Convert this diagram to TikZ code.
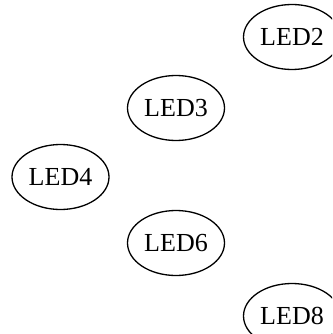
\documentclass[tikz,border=0pt]{standalone}
\usepackage{fontspec}
\setmainfont{Liberation Serif}
\usetikzlibrary{shapes.geometric}
\begin{document}
\begin{tikzpicture}[x=1pt,y=-1pt,
  led/.style={ellipse, draw, line width=1.3pt, minimum width=97pt,
    minimum height=65pt, inner sep=0pt, font=\fontsize{26}{30}\selectfont}]
\useasboundingbox (0,0) rectangle (332,334);
\begin{scope}
\clip (0,0) rectangle (332,334);
\node[led] (led2) at (292,37) {LED2};
\node[led] (led3) at (176,108) {LED3};
\node[led] (led4) at (60.5,177) {LED4};
\node[led] (led6) at (176,243) {LED6};
\node[led] (led8) at (292,316) {LED8};
\end{scope}
\end{tikzpicture}
\end{document}
